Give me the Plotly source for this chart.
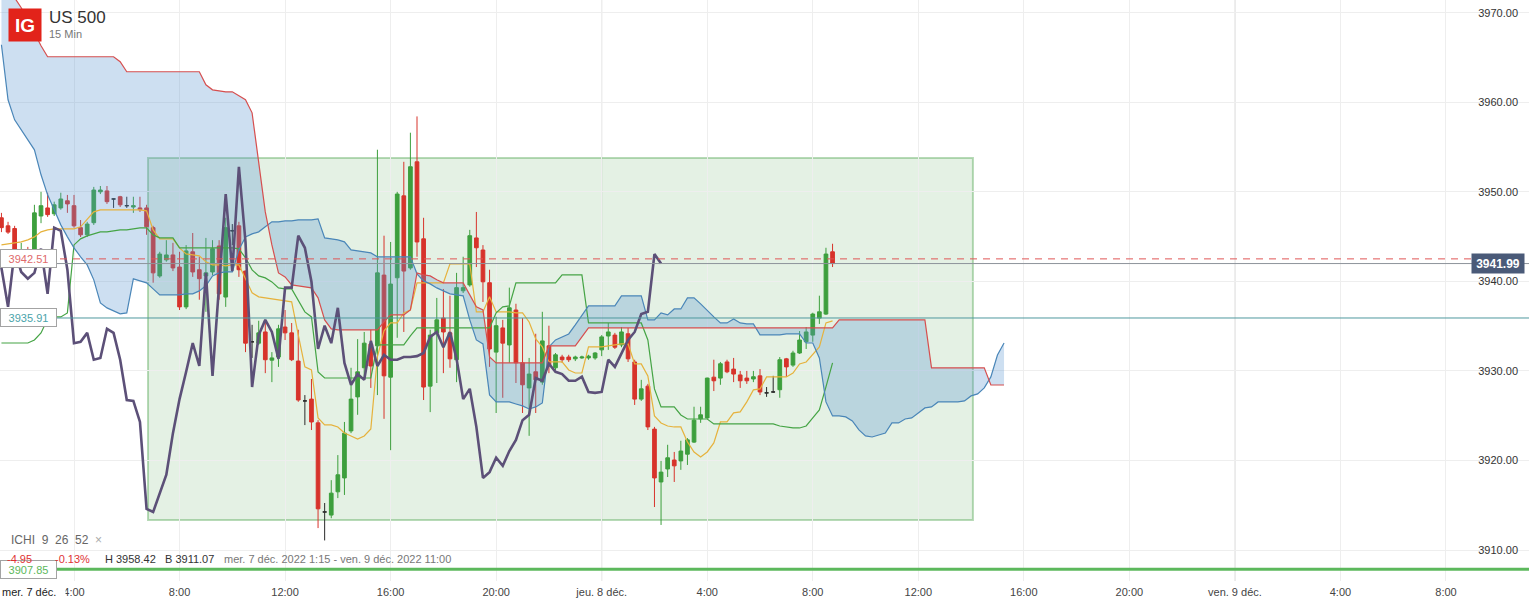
import pandas as pd
import plotly.graph_objects as go

FONT = "Liberation Sans, Arial, sans-serif"

# ---------------- data (15-min candles, US 500) ----------------
opens = [
    3947.1, 3946.2, 3945.9, 3943.2, 3943.5, 3943.5, 3947.3, 3948.2, 3947.55, 3948.2,
    3949.0, 3948.45, 3946.0, 3945.2, 3946.55, 3950.0, 3950.1, 3949.2, 3949.45, 3948.45,
    3948.3, 3948.2, 3948.2, 3946.0, 3940.6, 3942.4, 3942.95, 3941.6, 3937.15, 3943.3,
    3941.3, 3940.6, 3941.05, 3943.95, 3938.25, 3945.65, 3946.2, 3941.15, 3933.25, 3933.1,
    3934.35, 3931.2, 3931.55, 3934.9, 3934.25, 3931.1, 3926.65, 3926.85, 3924.2, 3914.25,
    3913.9, 3916.5, 3918.05, 3923.3, 3927.1, 3930.35, 3933.0, 3932.8, 3940.7, 3929.3,
    3940.4, 3949.55, 3941.5, 3953.35, 3944.75, 3928.3, 3934.25, 3935.9, 3934.25, 3931.25,
    3938.95, 3939.6, 3944.85, 3943.5, 3939.85, 3932.1, 3934.8, 3932.9, 3936.8, 3930.9,
    3928.1, 3929.9, 3928.75, 3932.8, 3930.35, 3931.55, 3931.55, 3931.35, 3931.45, 3931.45,
    3931.45, 3932.35, 3933.9, 3934.0, 3932.9, 3934.15, 3931.0, 3926.85, 3928.3, 3923.5,
    3917.6, 3919.05, 3920.05, 3919.95, 3920.7, 3922.05, 3924.65, 3924.75, 3929.3, 3929.2,
    3931.0, 3930.2, 3929.55, 3929.2, 3929.1, 3929.45, 3927.55, 3927.65, 3927.9, 3931.35,
    3930.65, 3932.0, 3933.25, 3934.0, 3935.9, 3936.35, 3943.3]
highs = [
    3947.65, 3946.65, 3946.2, 3944.3, 3943.85, 3948.55, 3950.0, 3949.9, 3948.9, 3949.9,
    3949.65, 3949.65, 3946.85, 3946.65, 3950.55, 3950.65, 3950.65, 3949.25, 3949.55, 3949.45,
    3949.45, 3949.45, 3948.55, 3946.2, 3943.3, 3944.6, 3944.3, 3943.3, 3944.05, 3945.4,
    3942.75, 3944.85, 3944.6, 3944.6, 3947.1, 3946.4, 3946.65, 3941.2, 3935.15, 3935.6,
    3935.7, 3932.1, 3935.15, 3936.8, 3935.35, 3934.6, 3927.3, 3929.1, 3924.5, 3915.25,
    3917.8, 3920.6, 3924.3, 3930.35, 3933.55, 3934.35, 3934.6, 3954.7, 3945.1, 3944.4,
    3950.0, 3953.35, 3956.6, 3958.42, 3947.1, 3934.6, 3938.15, 3939.15, 3938.4, 3940.95,
    3942.75, 3945.75, 3947.75, 3944.05, 3941.3, 3936.05, 3935.7, 3939.3, 3937.5, 3935.9,
    3931.45, 3934.15, 3936.6, 3935.05, 3932.0, 3931.8, 3931.8, 3931.7, 3931.7, 3931.8,
    3932.1, 3934.0, 3935.35, 3934.25, 3934.9, 3934.8, 3931.25, 3929.0, 3928.55, 3923.75,
    3919.95, 3921.75, 3920.95, 3922.2, 3922.5, 3926.0, 3926.0, 3929.25, 3931.25, 3931.0,
    3931.25, 3931.45, 3930.0, 3930.0, 3930.0, 3930.2, 3928.2, 3929.45, 3931.55, 3931.45,
    3932.25, 3934.45, 3934.9, 3936.5, 3938.4, 3943.75, 3944.2]
lows = [
    3945.5, 3945.3, 3943.2, 3942.85, 3942.95, 3943.05, 3946.5, 3947.2, 3947.3, 3948.0,
    3947.65, 3946.0, 3944.95, 3944.95, 3946.3, 3949.75, 3948.65, 3948.2, 3948.3, 3948.2,
    3947.65, 3947.75, 3945.2, 3939.85, 3940.4, 3942.2, 3941.15, 3936.8, 3936.9, 3940.5,
    3937.95, 3936.6, 3940.7, 3937.95, 3937.15, 3944.05, 3940.5, 3932.1, 3931.45, 3932.9,
    3929.75, 3928.75, 3930.45, 3933.45, 3931.1, 3926.55, 3923.95, 3923.4, 3912.45, 3911.07,
    3913.55, 3915.8, 3916.15, 3923.05, 3925.1, 3929.0, 3928.1, 3927.3, 3924.65, 3921.15,
    3933.7, 3934.35, 3941.3, 3942.75, 3926.75, 3925.4, 3928.65, 3929.75, 3930.35, 3928.75,
    3938.7, 3939.4, 3941.6, 3937.7, 3930.45, 3925.3, 3927.0, 3930.9, 3928.65, 3925.3,
    3922.75, 3925.3, 3928.45, 3929.75, 3930.1, 3930.9, 3931.0, 3931.1, 3931.35, 3931.25,
    3931.25, 3931.65, 3932.35, 3932.45, 3932.65, 3931.0, 3926.2, 3926.65, 3923.4, 3914.8,
    3912.8, 3918.15, 3917.6, 3918.95, 3919.5, 3921.95, 3924.2, 3924.65, 3927.75, 3928.45,
    3929.75, 3928.75, 3928.1, 3928.55, 3928.75, 3927.3, 3927.1, 3927.55, 3927.0, 3929.35,
    3930.45, 3931.9, 3932.45, 3933.25, 3935.25, 3936.25, 3941.6]
closes = [
    3946.0, 3945.5, 3943.5, 3943.5, 3943.2, 3947.65, 3948.45, 3947.45, 3948.55, 3949.2,
    3948.65, 3946.2, 3945.2, 3946.4, 3950.2, 3950.2, 3948.9, 3949.2, 3948.55, 3948.45,
    3948.45, 3948.0, 3946.1, 3940.95, 3943.05, 3942.95, 3941.5, 3937.15, 3943.4, 3941.05,
    3940.3, 3940.95, 3943.65, 3938.6, 3946.0, 3945.65, 3941.3, 3933.1, 3933.25, 3934.25,
    3931.25, 3931.45, 3934.7, 3934.25, 3931.25, 3926.75, 3926.65, 3924.3, 3914.6, 3914.25,
    3916.35, 3918.4, 3923.05, 3926.85, 3929.9, 3933.1, 3930.55, 3940.95, 3929.45, 3939.7,
    3949.75, 3941.15, 3952.8, 3944.4, 3928.2, 3934.0, 3935.7, 3934.35, 3931.35, 3939.3,
    3939.3, 3945.1, 3943.75, 3939.95, 3932.45, 3935.05, 3933.1, 3937.05, 3930.9, 3928.45,
    3929.65, 3929.0, 3933.35, 3930.55, 3931.8, 3931.25, 3931.25, 3931.55, 3931.55, 3931.65,
    3932.0, 3933.8, 3934.35, 3932.65, 3934.35, 3931.35, 3926.85, 3928.0, 3923.75, 3918.05,
    3918.7, 3920.3, 3919.4, 3921.05, 3922.3, 3924.5, 3925.1, 3929.2, 3928.9, 3930.8,
    3929.9, 3929.65, 3928.9, 3928.9, 3929.35, 3927.65, 3927.55, 3927.65, 3931.25, 3930.45,
    3932.0, 3933.45, 3934.35, 3936.35, 3936.6, 3943.05, 3941.99]

tenkan = [
    3944.07, 3944.18, 3944.29, 3944.41, 3944.63, 3944.97, 3945.53, 3945.75, 3945.86, 3945.86,
    3945.86, 3945.86, 3946.09, 3946.98, 3947.76, 3947.99, 3947.99, 3947.99, 3947.99, 3947.99,
    3947.99, 3947.99, 3947.87, 3945.75, 3944.75, 3944.75, 3944.75, 3943.74, 3943.07, 3942.96,
    3942.85, 3942.18, 3941.84, 3941.84, 3941.73, 3941.84, 3941.84, 3940.28, 3938.72, 3938.27,
    3938.16, 3938.05, 3937.93, 3937.82, 3937.71, 3934.02, 3930.45, 3930.11, 3924.75, 3923.97,
    3923.97, 3923.74, 3923.07, 3922.74, 3922.40, 3922.74, 3923.52, 3931.56, 3934.47, 3935.36,
    3935.36, 3936.48, 3936.81, 3939.83, 3939.83, 3939.83, 3939.83, 3939.83, 3941.95, 3941.95,
    3941.95, 3941.95, 3936.59, 3936.59, 3938.27, 3936.59, 3936.59, 3936.59, 3936.48, 3936.48,
    3935.47, 3933.57, 3932.68, 3931.00, 3931.00, 3931.00, 3930.11, 3929.77, 3929.77, 3932.68,
    3932.68, 3932.68, 3932.79, 3932.90, 3933.01, 3933.01, 3930.78, 3930.78, 3929.44, 3924.97,
    3924.19, 3923.85, 3923.74, 3923.74, 3922.07, 3920.95, 3920.39, 3920.95, 3921.96, 3924.30,
    3924.30, 3925.31, 3925.42, 3926.54, 3927.88, 3927.99, 3929.33, 3929.33, 3929.33, 3929.33,
    3929.77, 3930.78, 3931.00, 3931.78, 3932.68, 3935.36, 3935.59]

kijun = (
    [3933.12] * 5 + [3933.46, 3934.24, 3935.81, 3936.03, 3936.03,
    3936.48, 3944.07, 3944.75, 3945.08, 3945.30, 3945.53, 3945.53, 3945.64, 3945.75, 3945.75,
    3945.86, 3945.98, 3945.98, 3945.19, 3944.86, 3944.86, 3944.86, 3943.74, 3943.74, 3943.74]
    + [3943.74] * 6 + [3943.63, 3942.63, 3941.28, 3940.61,
    3940.39, 3939.94, 3939.27, 3939.16, 3939.16, 3937.93, 3936.59, 3936.03, 3929.89, 3929.21]
    + [3929.21] * 7 + [3932.90] * 5 + [3933.91] + [3934.81] * 12
    + [3936.48, 3937.15, 3937.26] + [3939.83] * 7 + [3940.72] * 4 + [3935.36] * 9
    + [3933.46, 3927.99, 3925.98, 3925.98, 3925.98, 3925.08] + [3924.63] * 4
    + [3924.08] * 10 + [3923.85, 3923.74, 3923.63, 3923.63, 3923.85, 3924.75, 3925.64,
    3928.21, 3930.89])

# leading spans (already shifted 26 periods forward)
span_a = [
    3966.42, 3960.28, 3958.04, 3956.92, 3955.81, 3954.69, 3951.90, 3949.66, 3947.99, 3946.31,
    3944.97, 3943.74, 3942.74, 3941.84, 3940.17, 3937.60, 3937.04, 3936.70, 3936.37, 3936.48,
    3940.28, 3940.05, 3939.83, 3939.16, 3938.49, 3938.49, 3938.49, 3938.49, 3938.60, 3938.60,
    3938.94, 3939.50, 3940.61, 3940.94, 3941.06, 3941.06, 3943.52, 3944.97, 3945.30, 3945.53,
    3946.09, 3946.65, 3946.65, 3946.76, 3946.76, 3946.87, 3946.87, 3946.87, 3946.98, 3944.86,
    3944.75, 3944.63, 3944.41, 3943.52, 3943.41, 3943.30, 3943.18, 3942.74, 3942.74, 3942.74,
    3942.74, 3942.74, 3942.74, 3940.84, 3940.05, 3939.72, 3939.27, 3938.94, 3938.60, 3938.49,
    3938.38, 3935.70, 3933.46, 3933.01, 3927.32, 3926.54, 3926.54, 3926.54, 3926.31, 3926.09,
    3925.75, 3925.98, 3926.42, 3932.68, 3933.46, 3933.80, 3934.13, 3935.14, 3936.26, 3937.26,
    3937.26, 3937.26, 3937.26, 3937.26, 3938.38, 3938.38, 3938.38, 3938.38, 3935.70, 3935.70,
    3936.48, 3936.26, 3936.92, 3936.92, 3938.16, 3938.16, 3937.48, 3936.70, 3936.03, 3935.36,
    3935.36, 3935.81, 3935.36, 3935.25, 3935.25, 3934.02, 3934.02, 3934.02, 3934.02, 3934.13,
    3934.13, 3934.13, 3933.12, 3933.12, 3931.45, 3926.54, 3924.97, 3924.97, 3924.86, 3924.41,
    3923.41, 3922.74, 3922.62, 3922.85, 3923.07, 3924.19, 3924.19, 3924.63, 3924.75, 3925.31,
    3925.87, 3925.98, 3926.54, 3926.54, 3926.54, 3926.54, 3926.65, 3927.21, 3927.43, 3928.10,
    3929.33, 3931.78, 3933.12]

span_b = (
    [3974.24, 3972.79, 3971.67, 3970.56, 3969.22, 3967.76, 3966.31, 3965.08]
    + [3965.08] * 10 + [3964.52, 3963.41] + [3963.41] * 11
    + [3961.95, 3961.39, 3961.28, 3961.17, 3961.17, 3960.72, 3960.28, 3958.82, 3953.24, 3947.76,
       3944.07, 3940.94, 3940.50, 3939.61, 3939.50, 3939.38, 3939.27, 3938.16, 3935.70, 3934.69]
    + [3934.58] * 7
    + [3935.47, 3936.26, 3936.26, 3936.26, 3936.81, 3940.94, 3940.72, 3940.61, 3940.17, 3939.83,
       3939.83, 3939.83, 3939.83, 3938.49, 3937.15, 3936.81, 3931.56, 3930.89]
    + [3930.89] * 7 + [3932.79] * 5 + [3933.80] + [3934.81] * 38
    + [3935.70] * 14 + [3930.34] * 9 + [3928.43] * 3)

y_ticks = [3910, 3920, 3930, 3940, 3950, 3960, 3970]
x_tick_labels = ["4:00", "8:00", "12:00", "16:00", "20:00", "jeu. 8 déc.",
                 "4:00", "8:00", "12:00", "16:00", "20:00", "ven. 9 déc.",
                 "4:00", "8:00"]

last_price = 3941.99
red_level = 3942.51
teal_level = 3935.91
green_level = 3907.85

# ---------------- geometry ----------------
W, H = 1529, 602
MB = 21
PH = H - MB


def px_x(px):
    return px / W


def px_y(py):
    return 1 - py / PH


start = pd.Timestamp("2022-12-07 01:15")
day0 = pd.Timestamp("2022-12-07 00:00")
times = pd.date_range(start, periods=len(closes), freq="15min")
cloud_times = pd.date_range(start, periods=len(span_a), freq="15min")
chikou_times = times - pd.Timedelta(minutes=15 * 26)
x_range = [day0 + pd.Timedelta(hours=1.1954), day0 + pd.Timedelta(hours=59.146)]
tick_times = [day0 + pd.Timedelta(hours=4 * (i + 1)) for i in range(len(x_tick_labels))]

GREEN = "#3d9f3d"
RED = "#d7332b"
DOJI = "#2b2b2b"

fig = go.Figure()

reg = [i for i in range(len(closes)) if opens[i] != closes[i]]
doj = [i for i in range(len(closes)) if opens[i] == closes[i]]


def sub(arr, idx):
    return [arr[i] for i in idx]


fig.add_trace(go.Candlestick(
    x=sub(times, reg), open=sub(opens, reg), high=sub(highs, reg),
    low=sub(lows, reg), close=sub(closes, reg),
    increasing=dict(line=dict(color=GREEN, width=1), fillcolor=GREEN),
    decreasing=dict(line=dict(color=RED, width=1), fillcolor=RED),
    whiskerwidth=0, showlegend=False, hoverinfo="skip"))
fig.add_trace(go.Candlestick(
    x=sub(times, doj), open=sub(opens, doj), high=sub(highs, doj),
    low=sub(lows, doj), close=sub(closes, doj),
    increasing=dict(line=dict(color=DOJI, width=1), fillcolor=DOJI),
    decreasing=dict(line=dict(color=DOJI, width=1), fillcolor=DOJI),
    whiskerwidth=0, showlegend=False, hoverinfo="skip"))

# cloud fill
fig.add_trace(go.Scatter(x=cloud_times, y=span_b, mode="lines",
                         line=dict(width=0, color="rgba(0,0,0,0)"), hoverinfo="skip"))
fig.add_trace(go.Scatter(x=cloud_times, y=span_a, mode="lines", fill="tonexty",
                         fillcolor="rgba(88,148,208,0.30)",
                         line=dict(width=0, color="rgba(0,0,0,0)"), hoverinfo="skip"))
# lines
fig.add_trace(go.Scatter(x=times, y=tenkan, mode="lines",
                         line=dict(color="#e6b23c", width=1.2), hoverinfo="skip"))
fig.add_trace(go.Scatter(x=times, y=kijun, mode="lines",
                         line=dict(color="#45a445", width=1.2), hoverinfo="skip"))
fig.add_trace(go.Scatter(x=cloud_times, y=span_a, mode="lines",
                         line=dict(color="#4a86b8", width=1.2), hoverinfo="skip"))
fig.add_trace(go.Scatter(x=cloud_times, y=span_b, mode="lines",
                         line=dict(color="#d64f4f", width=1.2), hoverinfo="skip"))
fig.add_trace(go.Scatter(x=chikou_times, y=closes, mode="lines",
                         line=dict(color="#5c5078", width=2.6), hoverinfo="skip"))

shapes = []
# drawn rectangle
shapes.append(dict(type="rect", xref="x", yref="y", layer="below",
                   x0=day0 + pd.Timedelta(hours=6.805), x1=day0 + pd.Timedelta(hours=38.07),
                   y0=3913.35, y1=3953.77,
                   fillcolor="rgba(95,172,95,0.17)",
                   line=dict(color="rgba(95,172,95,0.45)", width=2)))
# day separators
for d in (1, 2):
    t = day0 + pd.Timedelta(days=d)
    shapes.append(dict(type="line", xref="x", yref="paper", x0=t, x1=t, y0=0, y1=1,
                       layer="below", line=dict(color="#cdcdcd", width=1)))
# horizontal levels
shapes.append(dict(type="line", xref="paper", yref="y", x0=0, x1=1,
                   y0=last_price, y1=last_price, line=dict(color="#8d939b", width=1)))
shapes.append(dict(type="line", xref="paper", yref="y", x0=px_x(60), x1=1,
                   y0=red_level, y1=red_level, line=dict(color="#e05555", width=1, dash="7px,6px")))
shapes.append(dict(type="line", xref="paper", yref="y", x0=0, x1=1,
                   y0=teal_level, y1=teal_level, line=dict(color="#4f999e", width=1)))
shapes.append(dict(type="line", xref="paper", yref="y", x0=0, x1=1,
                   y0=green_level, y1=green_level, line=dict(color="#5cb85c", width=3)))

ann = []


def box(txt, price, color):
    ann.append(dict(text=txt, xref="paper", yref="y", x=0, y=price, xanchor="left",
                    yanchor="middle", showarrow=False, bgcolor="white",
                    bordercolor="#a3a3a3", borderwidth=1, borderpad=2, width=51, height=13,
                    font=dict(family=FONT, size=11, color=color)))


box(f"{red_level:.2f}", red_level, "#e06a6a")
box(f"{teal_level:.2f}", teal_level, "#4aa3aa")
box(f"{green_level:.2f}", green_level, "#5cb85c")

ann.append(dict(text=f"<b>{last_price:.2f}</b>", xref="paper", yref="y", x=px_x(1525),
                y=last_price, xanchor="right", yanchor="middle", showarrow=False,
                bgcolor="#4a5a78", borderpad=3, width=46, height=13,
                font=dict(family=FONT, size=12, color="white")))

# header
ann.append(dict(text="<b>IG</b>", xref="paper", yref="paper", x=px_x(8), y=px_y(8),
                xanchor="left", yanchor="top", showarrow=False, bgcolor="#e2231a",
                width=32, height=32, borderpad=0,
                font=dict(family=FONT, size=19, color="white")))
ann.append(dict(text="US 500", xref="paper", yref="paper", x=px_x(47), y=px_y(17),
                xanchor="left", yanchor="middle", showarrow=False,
                font=dict(family=FONT, size=17, color="#333333")))
ann.append(dict(text="15 Min", xref="paper", yref="paper", x=px_x(47), y=px_y(34),
                xanchor="left", yanchor="middle", showarrow=False,
                font=dict(family=FONT, size=11, color="#777777")))

# indicator legend
ann.append(dict(text="ICHI&nbsp;&nbsp;9&nbsp;&nbsp;26&nbsp;&nbsp;52&nbsp;&nbsp;<span style='color:#aaaaaa'>×</span>",
                xref="paper", yref="paper", x=px_x(9), y=px_y(540),
                xanchor="left", yanchor="middle", showarrow=False,
                font=dict(family=FONT, size=12, color="#666666")))
info = [("-4.95", 5, "#e03333"), ("-0.13%", 53, "#e03333"), ("H 3958.42", 103, "#333333"),
        ("B 3911.07", 163, "#333333"),
        ("mer. 7 déc. 2022 1:15 - ven. 9 déc. 2022 11:00", 222, "#777777")]
for txt, x, col in info:
    ann.append(dict(text=txt, xref="paper", yref="paper", x=px_x(x), y=px_y(559),
                    xanchor="left", yanchor="middle", showarrow=False,
                    font=dict(family=FONT, size=11, color=col)))

# sticky first-day label on the time axis (masks the first hour label)
ann.append(dict(text="mer. 7 déc.", xref="paper", yref="paper", x=0, y=px_y(592),
                xanchor="left", yanchor="middle", showarrow=False, bgcolor="white",
                width=62, align="left", borderpad=1,
                font=dict(family=FONT, size=11, color="#222222")))

fig.update_layout(
    width=W, height=H, margin=dict(l=0, r=0, t=0, b=MB),
    paper_bgcolor="white", plot_bgcolor="white", showlegend=False,
    hovermode=False, shapes=shapes, annotations=ann, boxgap=0.2,
    xaxis=dict(type="date", range=x_range, rangeslider=dict(visible=False),
               tickmode="array", tickvals=tick_times, ticktext=x_tick_labels,
               showgrid=True, gridcolor="#eeeeee", gridwidth=1, zeroline=False,
               showline=False, ticks="", fixedrange=True, ticklabelstandoff=3,
               tickfont=dict(family=FONT, size=11, color="#444444")),
    yaxis=dict(side="right", range=[3906.54, 3971.42], tickmode="array",
               tickvals=y_ticks, ticktext=[f"{v:.2f}" for v in y_ticks],
               ticklabelposition="inside", ticklabelstandoff=8,
               showgrid=True, gridcolor="#eeeeee", gridwidth=1, zeroline=False,
               showline=False, ticks="", fixedrange=True,
               tickfont=dict(family=FONT, size=11, color="#333333")),
)

fig.write_html("out.html", config={"displayModeBar": False},
               post_script="document.body.style.margin='0';document.body.style.overflow='hidden';")
